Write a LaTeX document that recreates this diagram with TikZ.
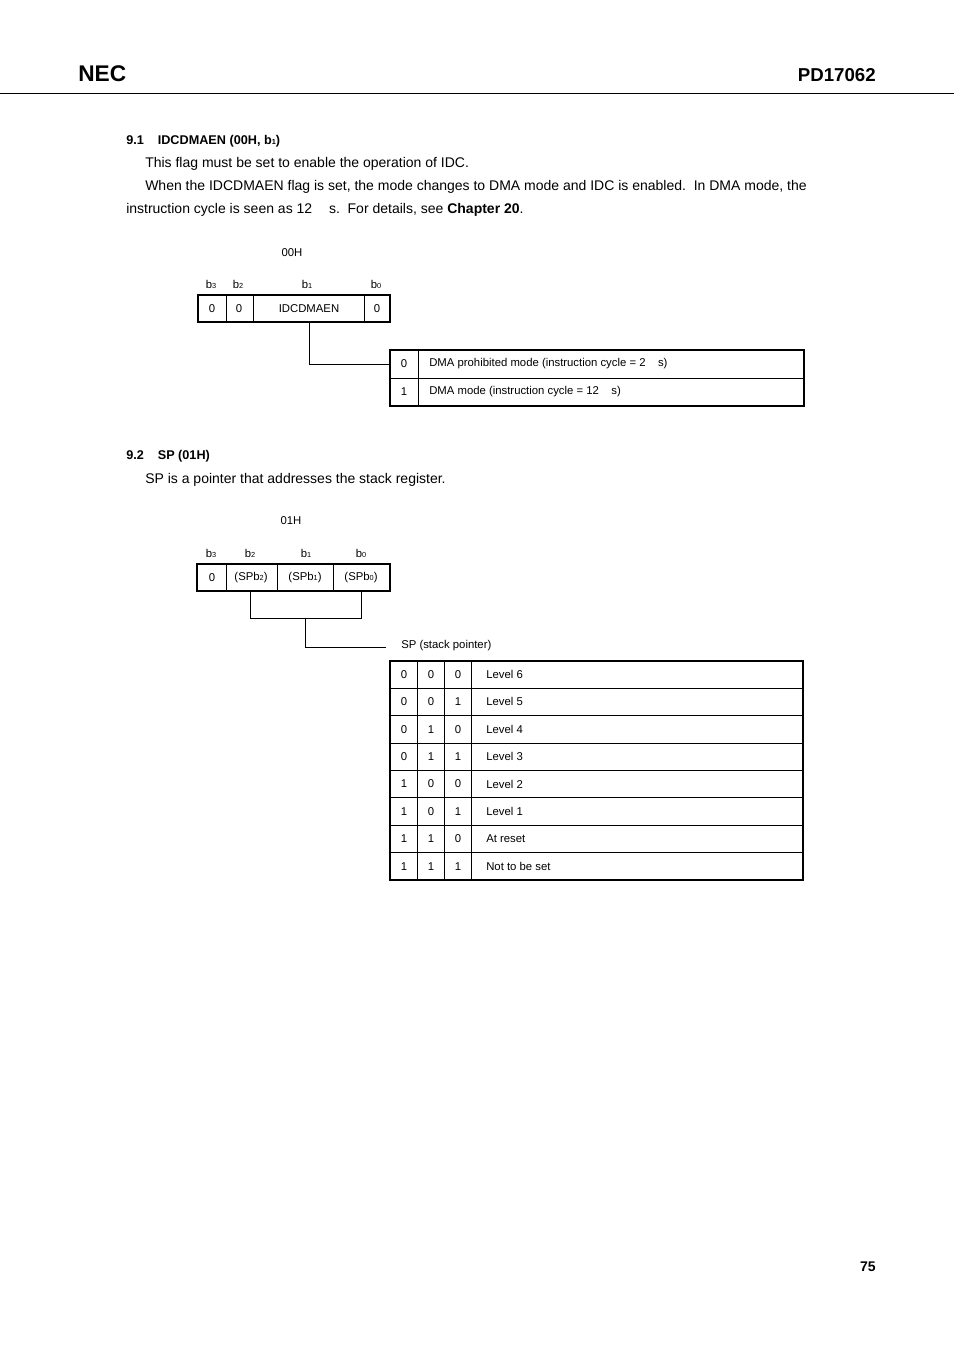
\documentclass[tikz,border=0pt]{standalone}
\usepackage{fontspec}
\setmainfont{Liberation Sans}
\usetikzlibrary{positioning}
\tikzset{
  body/.style={anchor=base west, font=\fontsize{10.5}{12}\selectfont, inner sep=0pt},
  small/.style={font=\fontsize{8.5}{10}\selectfont, inner sep=0pt},
  frame/.style={line width=1.2pt},
  cell/.style={line width=0.6pt}
}
\newcommand{\sbit}[1]{{\fontsize{5.5}{6}\selectfont #1}}
\begin{document}
\begin{tikzpicture}[x=0.75pt,y=-0.75pt]
  \useasboundingbox (0,0) rectangle (954,1351);
  % header
  \node[anchor=west, inner sep=0pt, font=\fontsize{17}{18}\selectfont\bfseries] (logo) at (78,74) {NEC};
  \node[anchor=east, inner sep=0pt, font=\fontsize{14}{16}\selectfont\bfseries] (part) at (876,75) {PD17062};
  \draw[line width=0.6pt] (0,93) -- (954,93);

  % 9.1
  \node[body, font=\fontsize{9.5}{11}\selectfont\bfseries] (h91) at (126,145) {9.1\hspace{1.1em}IDCDMAEN (00H, b\sbit{1})};
  \node[body] (p1) at (145,168) {This flag must be set to enable the operation of IDC.};
  \node[body] (p2) at (145,191) {When the IDCDMAEN flag is set, the mode changes to DMA mode and IDC is enabled.\ \ In DMA mode, the};
  \node[body] (p3) at (126,214) {instruction cycle is seen as 12\hspace{1.2em}s.\ \ For details, see \textbf{Chapter 20}.};

  \node[small] (a00) at (292,253) {00H};
  \foreach \x/\b in {211/3,238/2,307/1,376/0}
    \node[small] at (\x,284) {b\sbit{\b}};
  \draw[cell] (226,295) -- (226,322) (253,295) -- (253,322) (364,295) -- (364,322);
  \draw[frame] (198,295) rectangle (390,322);
  \foreach \x/\t in {212/0,239/0,309/IDCDMAEN,377/0}
    \node[small] at (\x,308.5) {\t};
  \draw[cell] (309,322) -- (309,364) -- (390,364);
  \draw[cell] (390,378) -- (804,378) (418,350) -- (418,406);
  \draw[frame] (390,350) rectangle (804,406);
  \node[small] at (404,364) {0};
  \node[small] at (404,392) {1};
  \node[small, anchor=west] at (429,364) {DMA prohibited mode (instruction cycle = 2\hspace{1.1em}s)};
  \node[small, anchor=west] at (429,392) {DMA mode (instruction cycle = 12\hspace{1.1em}s)};

  % 9.2
  \node[body, font=\fontsize{9.5}{11}\selectfont\bfseries] (h92) at (126,459) {9.2\hspace{1.1em}SP (01H)};
  \node[body] (p4) at (145,483) {SP is a pointer that addresses the stack register.};

  \node[small] (a01) at (291,521) {01H};
  \foreach \x/\b in {211/3,250/2,306/1,361/0}
    \node[small] at (\x,553) {b\sbit{\b}};
  \draw[cell] (226,564) -- (226,591) (277,564) -- (277,591) (333,564) -- (333,591);
  \draw[frame] (197,564) rectangle (390,591);
  \foreach \x/\t in {212/0,251/(SPb\sbit{2}),305/(SPb\sbit{1}),361/(SPb\sbit{0})}
    \node[small] at (\x,577.5) {\t};
  \draw[cell] (250,591) -- (250,618) -- (361,618) -- (361,591);
  \draw[cell] (305,618) -- (305,647) -- (386,647);
  \node[small, anchor=west] (splabel) at (401,646) {SP (stack pointer)};

  \foreach \i/\a/\b/\c/\t in {0/0/0/0/Level 6,1/0/0/1/Level 5,2/0/1/0/Level 4,3/0/1/1/Level 3,
      4/1/0/0/Level 2,5/1/0/1/Level 1,6/1/1/0/At reset,7/1/1/1/Not to be set}{
    \pgfmathsetmacro{\yy}{674.5+27.375*\i}
    \node[small] at (404,\yy) {\a};
    \node[small] at (431,\yy) {\b};
    \node[small] at (458,\yy) {\c};
    \node[small, anchor=west] at (486,\yy) {\t};
  }
  \foreach \i in {1,...,7}
    \draw[cell] (390,661+27.375*\i) -- (803,661+27.375*\i);
  \draw[cell] (417,661) -- (417,880) (444,661) -- (444,880) (471,661) -- (471,880);
  \draw[frame] (390,661) rectangle (803,880);

  \node[anchor=east, inner sep=0pt, font=\fontsize{10.5}{12}\selectfont\bfseries] (pg) at (876,1267) {75};
\end{tikzpicture}
\end{document}
